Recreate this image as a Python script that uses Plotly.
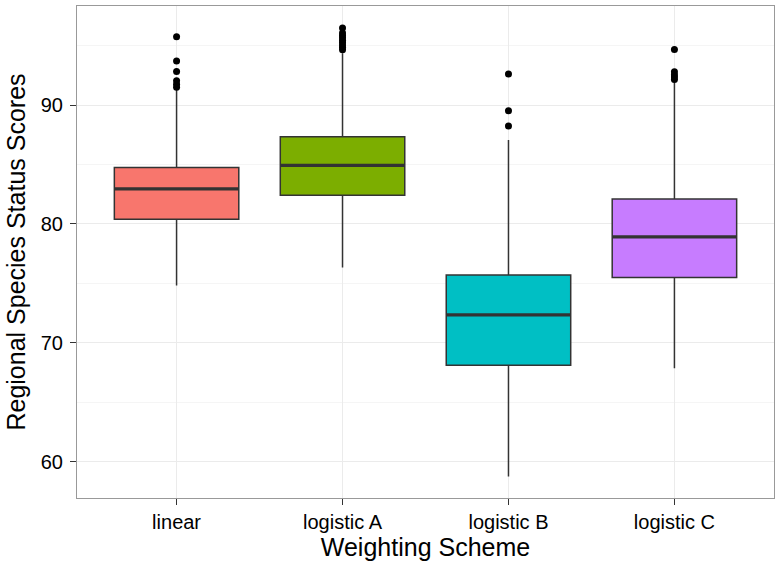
import plotly.graph_objects as go

categories = ["linear", "logistic A", "logistic B", "logistic C"]
colors = ["#F8766D", "#7CAE00", "#00BFC4", "#C77CFF"]
q1 = [80.4, 82.4, 68.1, 75.5]
median = [82.95, 84.92, 72.35, 78.9]
q3 = [84.75, 87.33, 75.69, 82.1]
lowerfence = [74.82, 76.33, 58.74, 67.86]
upperfence = [91.3, 94.35, 87.05, 91.95]
outliers = [
    [91.5, 91.75, 92.05, 92.83, 93.7, 95.75],
    [94.65, 94.85, 95.05, 95.25, 95.45, 95.65, 95.85, 96.05, 96.48],
    [88.23, 89.52, 92.6],
    [92.15, 92.35, 92.55, 92.8, 94.68],
]
y_ticks = [60, 70, 80, 90]
box_width = 0.75

fig = go.Figure()
for i, cat in enumerate(categories):
    fig.add_trace(go.Box(
        x=[i], q1=[q1[i]], median=[median[i]], q3=[q3[i]],
        lowerfence=[lowerfence[i]], upperfence=[upperfence[i]],
        width=box_width, whiskerwidth=0, fillcolor=colors[i],
        line=dict(color="#333333", width=1.5), boxpoints=False,
        name=cat, showlegend=False,
    ))
    # thicker median bar (ggplot fatten)
    fig.add_trace(go.Scatter(
        x=[i - box_width / 2, i + box_width / 2], y=[median[i], median[i]],
        mode="lines", line=dict(color="#333333", width=3.2),
        showlegend=False, hoverinfo="skip",
    ))
    fig.add_trace(go.Scatter(
        x=[i] * len(outliers[i]), y=outliers[i], mode="markers",
        marker=dict(color="black", size=7), showlegend=False,
    ))

fig.update_layout(
    width=782, height=571,
    margin=dict(l=77, r=8, t=6, b=73),
    paper_bgcolor="white", plot_bgcolor="white",
    font=dict(family="Liberation Sans, Arial, sans-serif", color="black"),
    xaxis=dict(
        range=[-0.6, 3.6], tickmode="array", tickvals=list(range(len(categories))),
        ticktext=categories, tickfont=dict(size=20, color="black"),
        ticks="outside", ticklen=6, tickcolor="#333333", tickwidth=1,
        showgrid=True, gridcolor="#ebebeb", gridwidth=1, zeroline=False,
        showline=True, linecolor="#999999", linewidth=1, mirror=True,
        automargin=False,
        title=dict(text="Weighting Scheme", font=dict(size=25, color="black"), standoff=5),
    ),
    yaxis=dict(
        range=[56.94, 98.33], tickmode="array", tickvals=y_ticks,
        tickfont=dict(size=20, color="black"),
        ticks="outside", ticklen=6, tickcolor="#333333", tickwidth=1,
        ticklabelstandoff=3,
        showgrid=True, gridcolor="#ebebeb", gridwidth=1, zeroline=False,
        minor=dict(dtick=5, showgrid=True, gridcolor="#f5f5f5", gridwidth=1),
        showline=True, linecolor="#999999", linewidth=1, mirror=True,
        automargin=False,
        title=dict(text="Regional Species Status Scores", font=dict(size=25, color="black"), standoff=8),
    ),
)

fig.write_html("out.html", post_script="document.body.style.margin='0';",
               config={"displayModeBar": False})
